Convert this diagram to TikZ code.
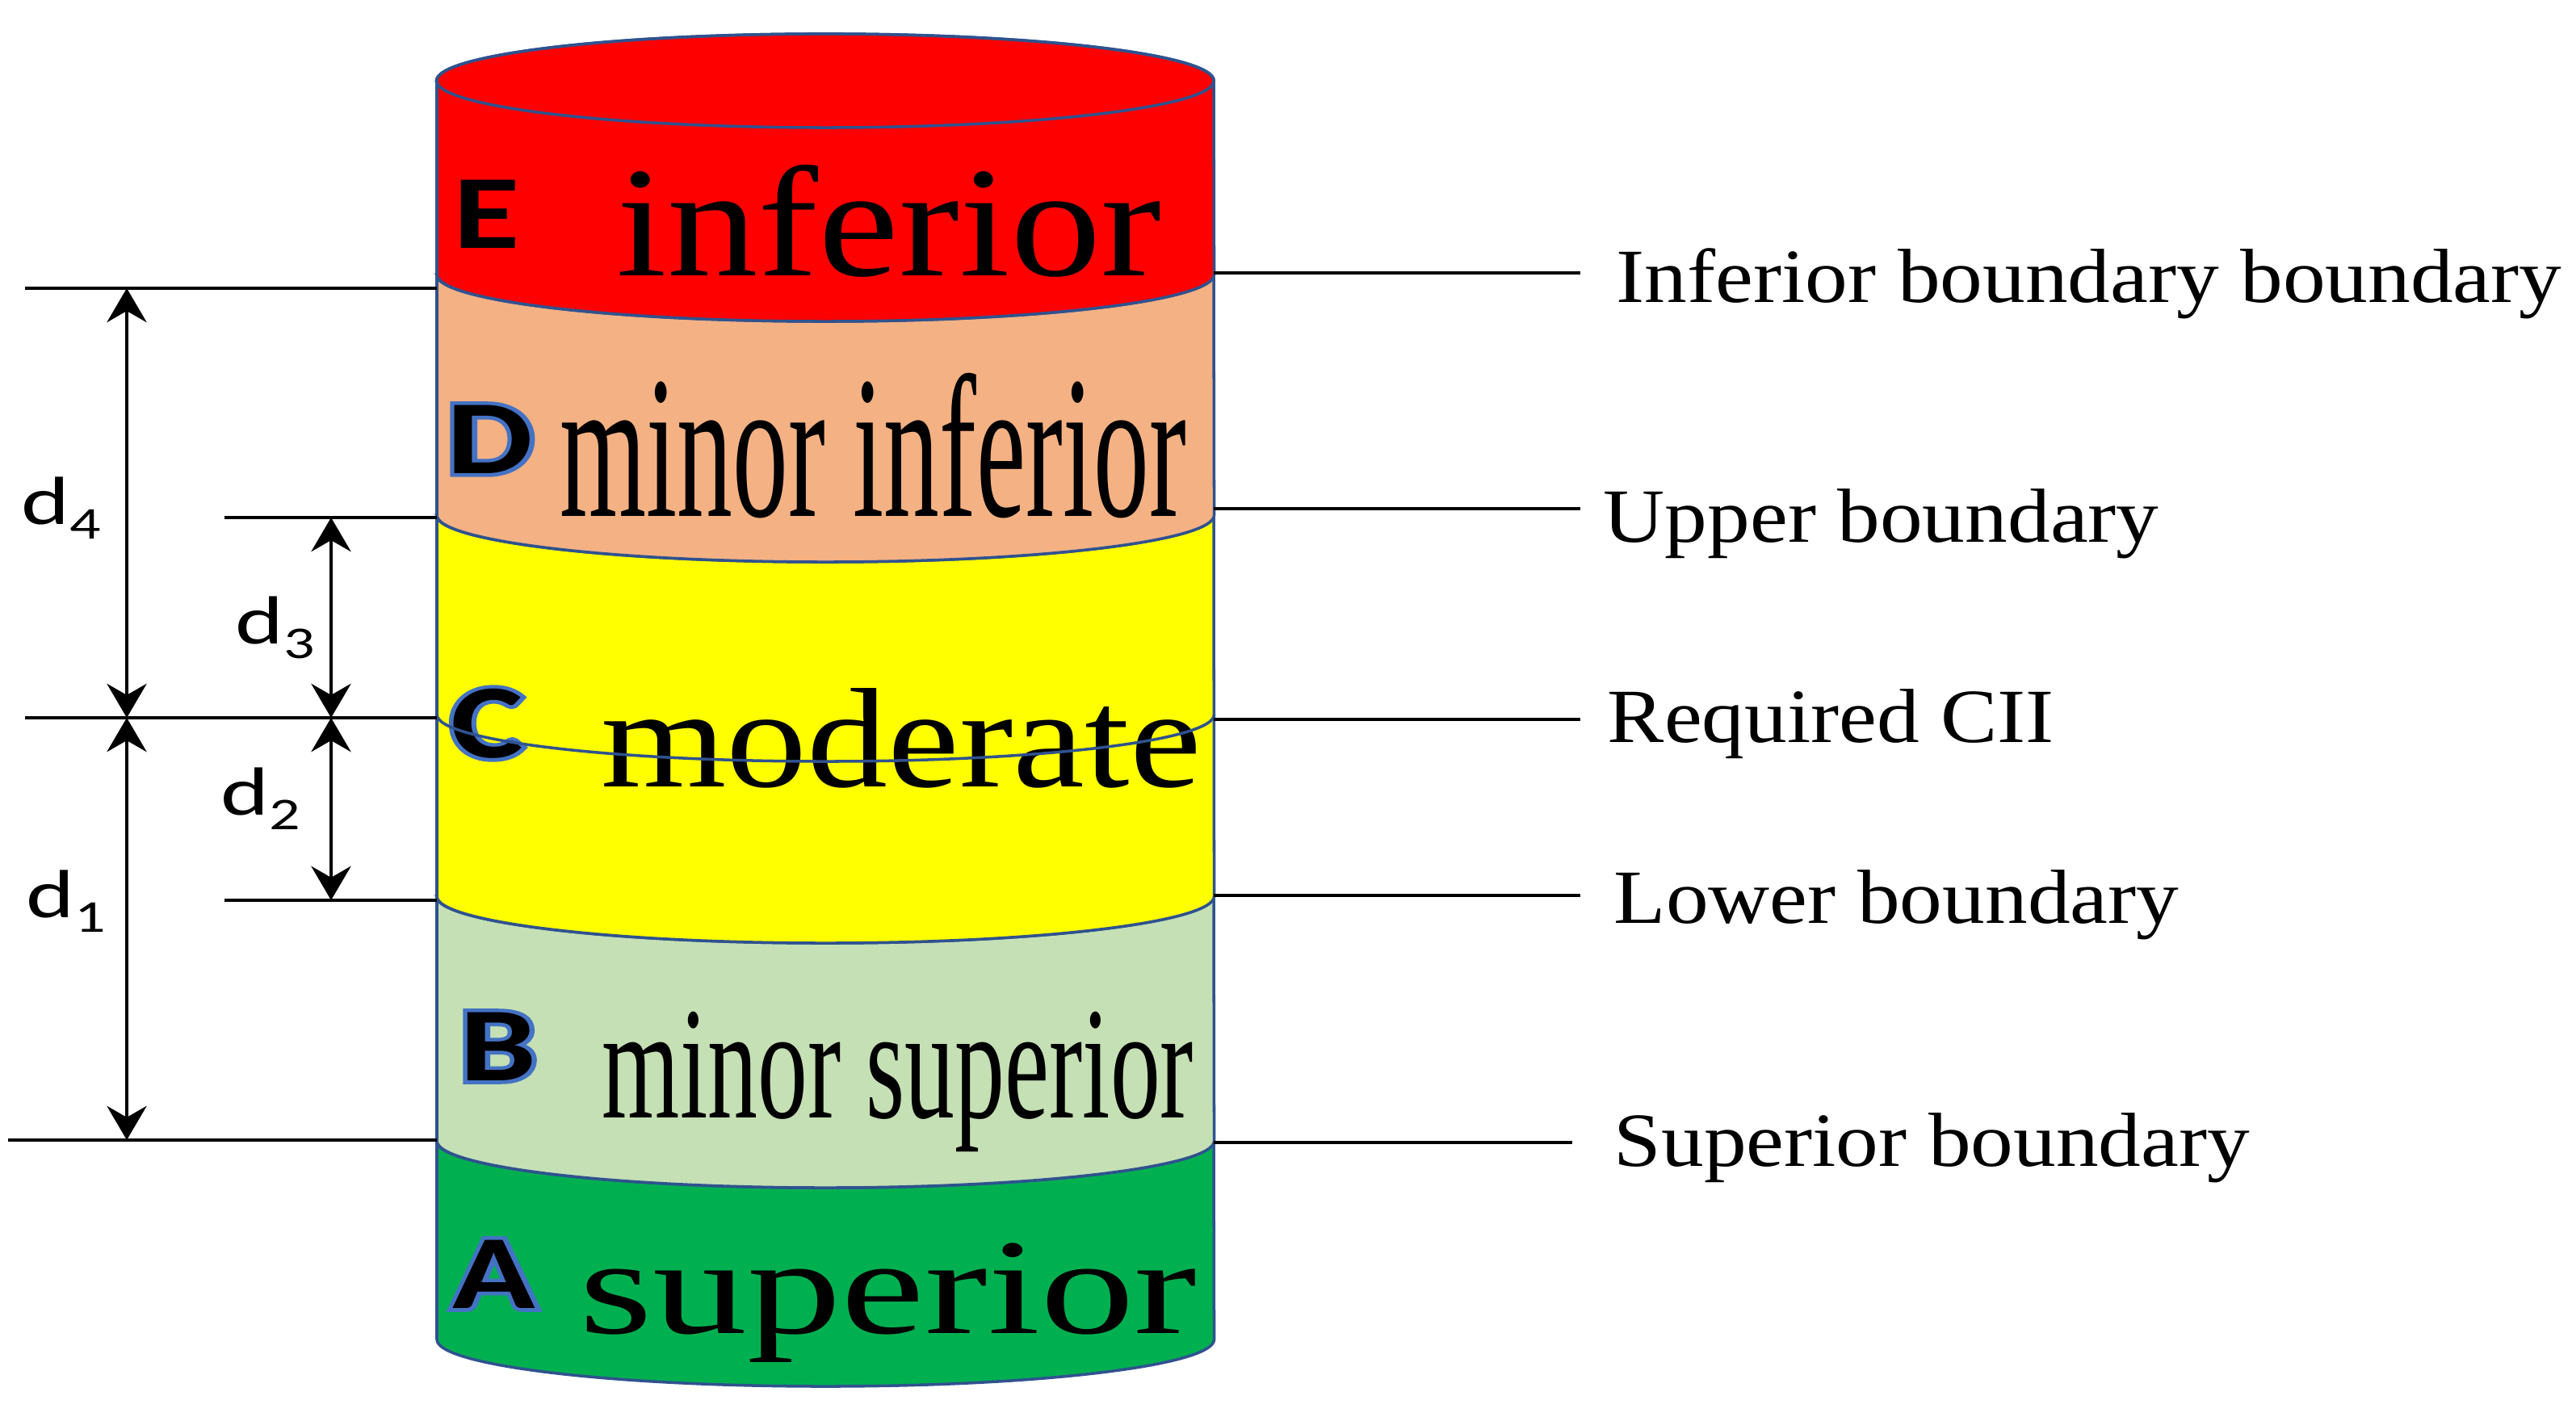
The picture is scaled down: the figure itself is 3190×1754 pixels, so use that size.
\documentclass[tikz,border=0pt]{standalone}
\usepackage{fontspec}
\setmainfont{Liberation Serif}
\newfontfamily\calibfont{Carlito}
\newfontfamily\calibglow{Carlito Bold}[FakeBold=7]
\usetikzlibrary{
    arrows.meta,
    calc
}

\definecolor{gradeE}{HTML}{FF0000}
\definecolor{gradeD}{HTML}{F4B183}
\definecolor{gradeC}{HTML}{FFFF00}
\definecolor{gradeB}{HTML}{C5E0B4}
\definecolor{gradeA}{HTML}{00B050}
\definecolor{cylblue}{HTML}{2F528F}
\definecolor{glowblue}{HTML}{4472C4}

\newcommand*{\cylrx}{4.81cm}
\newcommand*{\cylry}{0.58cm}

\tikzset{
    band/.style={draw=cylblue, line width=1pt},
    bound/.style={line width=1.2pt},
    dim/.style={line width=1.2pt,
        {Stealth[length=12pt,width=14pt,inset=4pt]}-{Stealth[length=12pt,width=14pt,inset=4pt]}},
    lbl/.style={font=\fontsize{27}{27}\selectfont, xscale=1.11, anchor=base west, inner sep=0pt},
    dlbl/.style={font=\calibfont\fontsize{24}{24}\selectfont, xscale=1.35, anchor=base west, inner sep=0pt},
    grade/.style={font=\calibfont\bfseries\fontsize{37}{37}\selectfont, xscale=1.3, inner sep=0pt},
    glow/.style={font=\calibglow\fontsize{37}{37}\selectfont, text=glowblue, xscale=1.3, inner sep=0pt},
    word/.style={font=\fontsize{40}{40}\selectfont, anchor=base, inner sep=0pt}
}

\begin{document}
\begin{tikzpicture}[x=0.01cm, y=0.01cm]
            \useasboundingbox (0,0) rectangle (3190,1754);

            % Bands of the cylinder, bottom to top
            \filldraw[band, fill=gradeA] (541,341) -- (541,95)
                arc[start angle=180, end angle=360, x radius=\cylrx, y radius=\cylry] -- (1503,341)
                arc[start angle=0, end angle=-180, x radius=\cylrx, y radius=\cylry] -- cycle;
            \filldraw[band, fill=gradeB] (541,644) -- (541,341)
                arc[start angle=180, end angle=360, x radius=\cylrx, y radius=\cylry] -- (1503,644)
                arc[start angle=0, end angle=-180, x radius=\cylrx, y radius=\cylry] -- cycle;
            \filldraw[band, fill=gradeC] (541,1116) -- (541,644)
                arc[start angle=180, end angle=360, x radius=\cylrx, y radius=\cylry] -- (1503,1116)
                arc[start angle=0, end angle=-180, x radius=\cylrx, y radius=\cylry] -- cycle;
            \filldraw[band, fill=gradeD] (541,1414) -- (541,1116)
                arc[start angle=180, end angle=360, x radius=\cylrx, y radius=\cylry] -- (1503,1414)
                arc[start angle=0, end angle=-180, x radius=\cylrx, y radius=\cylry] -- cycle;
            \filldraw[band, fill=gradeE] (541,1654) -- (541,1414)
                arc[start angle=180, end angle=360, x radius=\cylrx, y radius=\cylry] -- (1503,1654)
                arc[start angle=0, end angle=180, x radius=\cylrx, y radius=\cylry] -- cycle;
            \draw[band] (1022,1654) ellipse[x radius=\cylrx, y radius=\cylry];

            % Grade words
            \node[word, xscale=1.6, yscale=1.385] (wE) at (1101,1412) {inferior};
            \node[word, xscale=0.978, yscale=1.79] (wD) at (1081,1114) {minor inferior};
            \node[word, xscale=1.42, yscale=1.25] (wC) at (1116,779) {moderate};
            \node[word, xscale=0.88, yscale=1.41] (wB) at (1112,369) {minor superior};
            \node[word, xscale=1.66, yscale=1.2] (wA) at (1100,102) {superior};

            % Grade letters, blue glow behind D, C, B, A
            \node[grade] (gE) at (603,1489) {E};
            \node[glow] (hD) at (607,1210) {D};
            \node[grade] (gD) at (hD) {D};
            \node[glow] (hC) at (603,858) {C};
            \node[grade] (gC) at (hC) {C};
            \node[glow] (hB) at (617,458) {B};
            \node[grade] (gB) at (hB) {B};
            \node[glow] (hA) at (612,176) {A};
            \node[grade] (gA) at (hA) {A};

            % Required CII line across the cylinder
            \coordinate (cL) at (541,869);
            \draw[band] (cL) arc[start angle=180, end angle=360, x radius=\cylrx, y radius=\cylry];

            % Left boundary lines
            \coordinate (l4) at (31,1397);   \coordinate (e4) at (541,1397);
            \coordinate (l3) at (278,1113);  \coordinate (e3) at (541,1113);
            \coordinate (lC) at (31,865);    \coordinate (eC) at (541,865);
            \coordinate (l2) at (278,639);   \coordinate (e2) at (541,639);
            \coordinate (l1) at (10,342);    \coordinate (e1) at (541,342);
            \draw[bound] (l4) -- (e4);
            \draw[bound] (l3) -- (e3);
            \draw[bound] (lC) -- (eC);
            \draw[bound] (l2) -- (e2);
            \draw[bound] (l1) -- (e1);

            % Distances
            \coordinate (aTop) at (157,1397);
            \coordinate (aMid) at (157,865);
            \coordinate (aBot) at (157,342);
            \coordinate (bTop) at (410,1113);
            \coordinate (bMid) at (410,865);
            \coordinate (bBot) at (410,639);
            \draw[dim] (aTop) -- (aMid);
            \draw[dim] (aMid) -- (aBot);
            \draw[dim] (bTop) -- (bMid);
            \draw[dim] (bMid) -- (bBot);

            \node[dlbl] (d4) at (26,1104) {d\raisebox{-5pt}{\fontsize{16}{16}\selectfont 4}};
            \node[dlbl] (d3) at (291,956) {d\raisebox{-5pt}{\fontsize{16}{16}\selectfont 3}};
            \node[dlbl] (d2) at (273,744) {d\raisebox{-5pt}{\fontsize{16}{16}\selectfont 2}};
            \node[dlbl] (d1) at (32,617) {d\raisebox{-5pt}{\fontsize{16}{16}\selectfont 1}};

            % Right boundary lines and labels
            \coordinate (rE) at (1503,1416);  \coordinate (sE) at (1957,1416);
            \coordinate (rD) at (1503,1124);  \coordinate (sD) at (1957,1124);
            \coordinate (rC) at (1503,863);   \coordinate (sC) at (1957,863);
            \coordinate (rB) at (1503,645);   \coordinate (sB) at (1957,645);
            \coordinate (rA) at (1503,339);   \coordinate (sA) at (1947,339);
            \draw[bound] (rE) -- (sE);
            \draw[bound] (rD) -- (sD);
            \draw[bound] (rC) -- (sC);
            \draw[bound] (rB) -- (sB);
            \draw[bound] (rA) -- (sA);

            \node[lbl] (tE) at ($(sE)+(44,-37)$) {Inferior boundary boundary};
            \node[lbl] (tD) at ($(sD)+(28,-42)$) {Upper boundary};
            \node[lbl] (tC) at ($(sC)+(33,-29)$) {Required CII};
            \node[lbl] (tB) at ($(sB)+(41,-35)$) {Lower boundary};
            \node[lbl] (tA) at ($(sA)+(51,-30)$) {Superior boundary};
          \end{tikzpicture}
\end{document}
